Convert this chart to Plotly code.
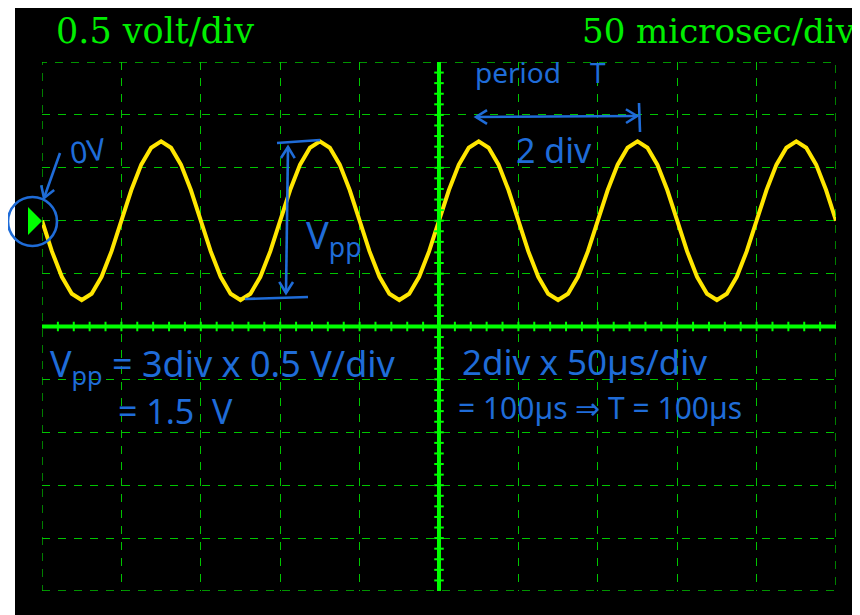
import math
import plotly.graph_objects as go

time_us = [0, 6.25, 12.5, 18.75, 25, 31.25, 37.5, 43.75, 50, 56.25, 62.5, 68.75, 75, 81.25, 87.5, 93.75,
           100, 106.25, 112.5, 118.75, 125, 131.25, 137.5, 143.75, 150, 156.25, 162.5, 168.75, 175, 181.25, 187.5, 193.75,
           200, 206.25, 212.5, 218.75, 225, 231.25, 237.5, 243.75, 250, 256.25, 262.5, 268.75, 275, 281.25, 287.5, 293.75,
           300, 306.25, 312.5, 318.75, 325, 331.25, 337.5, 343.75, 350, 356.25, 362.5, 368.75, 375, 381.25, 387.5, 393.75,
           400, 406.25, 412.5, 418.75, 425, 431.25, 437.5, 443.75, 450, 456.25, 462.5, 468.75, 475, 481.25, 487.5, 493.75,
           500]
volts = [0, -0.29, -0.53, -0.69, -0.75, -0.69, -0.53, -0.29, 0, 0.29, 0.53, 0.69, 0.75, 0.69, 0.53, 0.29,
         0, -0.29, -0.53, -0.69, -0.75, -0.69, -0.53, -0.29, 0, 0.29, 0.53, 0.69, 0.75, 0.69, 0.53, 0.29,
         0, -0.29, -0.53, -0.69, -0.75, -0.69, -0.53, -0.29, 0, 0.29, 0.53, 0.69, 0.75, 0.69, 0.53, 0.29,
         0, -0.29, -0.53, -0.69, -0.75, -0.69, -0.53, -0.29, 0, 0.29, 0.53, 0.69, 0.75, 0.69, 0.53, 0.29,
         0, -0.29, -0.53, -0.69, -0.75, -0.69, -0.53, -0.29, 0, 0.29, 0.53, 0.69, 0.75, 0.69, 0.53, 0.29,
         0]

volt_per_div = 0.5
us_per_div = 50
x_range = [0, 500]
y_range = [-3.5, 1.5]
vert_label = "0.5 volt/div"
horiz_label = "50 microsec/div"

# ---- layout geometry (page pixels; the page body adds an 8px offset) ----
OFF = 8
PAGE_W, PAGE_H = 860, 615
W, H = PAGE_W - OFF, PAGE_H - OFF
L, R, T, B = 42, 836, 62, 591   # plot area in page pixels

def px(x):
    return (x - L) / (R - L)

def py(y):
    return (B - y) / (B - T)

GREEN = "#00ee00"
GRID = "#00c400"
YELLOW = "#ffe600"
BLUE = "#1f6cd8"

fig = go.Figure()
fig.add_trace(go.Scatter(x=time_us, y=volts, mode="lines",
                         line=dict(color=YELLOW, width=4), hoverinfo="skip"))

shapes = []
# black screen background extending beyond plot area
shapes.append(dict(type="rect", xref="paper", yref="paper", x0=px(15), x1=px(PAGE_W + 10),
                   y0=py(PAGE_H + 10), y1=py(8), fillcolor="black", line=dict(width=0), layer="below"))
# dashed border
shapes.append(dict(type="rect", xref="x", yref="y", x0=x_range[0], x1=x_range[1],
                   y0=y_range[0], y1=y_range[1], line=dict(color=GRID, width=1.3, dash="8px,8px")))
# center axes
xc = (x_range[0] + x_range[1]) / 2
yc = (y_range[0] + y_range[1]) / 2
shapes.append(dict(type="line", xref="x", yref="y", x0=x_range[0], x1=x_range[1], y0=yc, y1=yc,
                   line=dict(color="#00ff00", width=4)))
shapes.append(dict(type="line", xref="x", yref="y", x0=xc, x1=xc, y0=y_range[0], y1=y_range[1],
                   line=dict(color="#00ff00", width=4)))
# minor ticks on the center axes (5 per division)
xstep = us_per_div / 5
n = int(round((x_range[1] - x_range[0]) / xstep))
tick_h = 0.045
for i in range(1, n):
    xv = x_range[0] + i * xstep
    shapes.append(dict(type="line", xref="x", yref="y", x0=xv, x1=xv, y0=yc - tick_h, y1=yc + tick_h,
                       line=dict(color="#00ff00", width=2)))
ystep = volt_per_div / 5
m = int(round((y_range[1] - y_range[0]) / ystep))
tick_w = 3.0
for i in range(1, m):
    yv = y_range[0] + i * ystep
    shapes.append(dict(type="line", xref="x", yref="y", x0=xc - tick_w, x1=xc + tick_w, y0=yv, y1=yv,
                       line=dict(color="#00ff00", width=2)))
# ground marker triangle
shapes.append(dict(type="path", xref="paper", yref="paper",
                   path=f"M {px(28)},{py(207)} L {px(42)},{py(221)} L {px(28)},{py(235)} Z",
                   fillcolor="#00ff00", line=dict(width=0)))

# ---- blue hand annotations ----
bl = dict(color=BLUE, width=2.6)

def seg(x0, y0, x1, y1):
    shapes.append(dict(type="line", xref="paper", yref="paper", x0=px(x0), x1=px(x1),
                       y0=py(y0), y1=py(y1), line=bl))

def head(hx, hy, tx, ty, size=13, spread=32):
    ang = math.atan2(ty - hy, tx - hx)
    pts = []
    for s in (-1, 1):
        a = ang + s * math.radians(spread)
        pts.append((hx + size * math.cos(a), hy + size * math.sin(a)))
    path = (f"M {px(pts[0][0])},{py(pts[0][1])} L {px(hx)},{py(hy)} "
            f"L {px(pts[1][0])},{py(pts[1][1])}")
    shapes.append(dict(type="path", xref="paper", yref="paper", path=path, line=bl))

shapes.append(dict(type="circle", xref="paper", yref="paper", x0=px(8), x1=px(57),
                   y0=py(246), y1=py(197), line=bl))
# 0V arrow
seg(60, 100 + 53, 44, 198)
head(44, 198, 60, 153)
# Vpp double arrow with bars
seg(277, 143, 320, 140)
seg(245, 299, 308, 297)
seg(288, 147, 286, 293)
head(288, 147, 287, 220)
head(286, 293, 287, 220)
# period arrow
seg(476, 117, 637, 116)
head(476, 117, 556, 117)
head(637, 116, 556, 117)
seg(639, 103, 640, 132)

annotations = []
def txt(s, x, y, size, color=BLUE, xanchor="center", family="Noto Sans", angle=0):
    annotations.append(dict(text=s, x=px(x), y=py(y), xref="paper", yref="paper", showarrow=False,
                            xanchor=xanchor, yanchor="middle", textangle=angle,
                            font=dict(family=family, size=size, color=color)))

# green scope labels
txt(vert_label, 54, 31, 35, GREEN, "left", "DejaVu Serif")
txt(horiz_label, 858, 31, 34, GREEN, "right", "DejaVu Serif")

txt("0V", 87, 150, 30, angle=-8)
txt("V<sub>pp</sub>", 334, 236, 38)
txt("period    T", 540, 72, 28)
txt("2 div", 554, 150, 34)
# calculations
txt("V<sub>pp</sub> = 3div x 0.5 V/div", 48, 366, 36, xanchor="left")
txt("= 1.5  V", 116, 411, 34, xanchor="left")
txt("2div x 50µs/div", 460, 361, 35, xanchor="left")
txt("= 100µs ⇒ T = 100µs", 456, 407, 30, xanchor="left")

fig.update_layout(
    width=W, height=H,
    margin=dict(l=L - OFF, r=PAGE_W - R, t=T - OFF, b=PAGE_H - B),
    paper_bgcolor="white", plot_bgcolor="black",
    showlegend=False,
    shapes=shapes, annotations=annotations,
    xaxis=dict(range=x_range, dtick=us_per_div, tick0=0, showticklabels=False, ticks="",
               showgrid=True, gridcolor=GRID, gridwidth=1.3, griddash="8px,8px",
               zeroline=False, showline=False, fixedrange=True),
    yaxis=dict(range=y_range, dtick=volt_per_div, tick0=0, showticklabels=False, ticks="",
               showgrid=True, gridcolor=GRID, gridwidth=1.3, griddash="8px,8px",
               zeroline=False, showline=False, fixedrange=True),
)

fig.write_html("out.html", config={"displayModeBar": False})
